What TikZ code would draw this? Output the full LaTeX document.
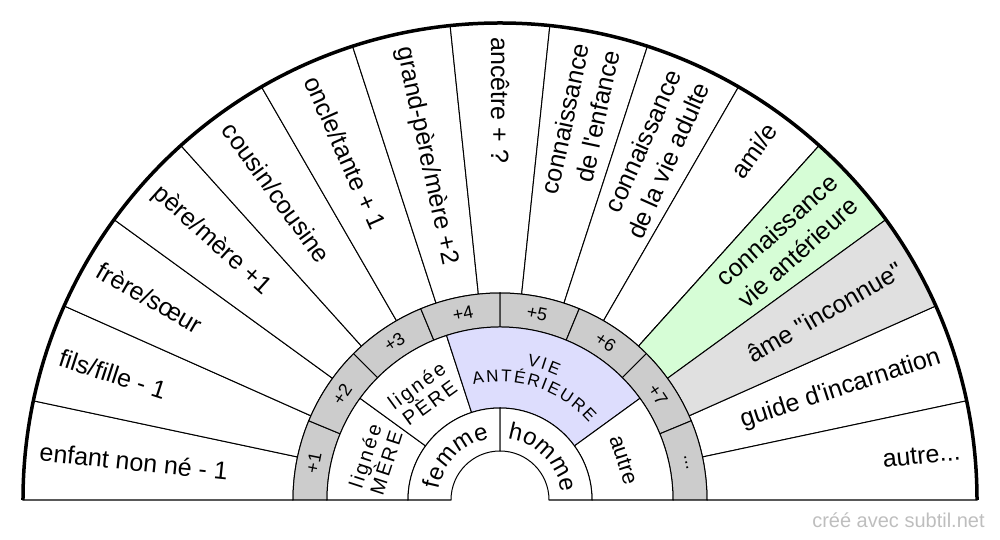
\documentclass[tikz,border=0pt]{standalone}
\usepackage{fontspec}
\setmainfont{Liberation Sans}[Ligatures=TeXOff]
\definecolor{ringgray}{RGB}{204,204,204}
\definecolor{soulgray}{RGB}{224,224,224}
\definecolor{pastgreen}{RGB}{214,253,214}
\definecolor{pastblue}{RGB}{221,221,253}
\definecolor{footgray}{RGB}{190,190,190}
% sector: [style]{outer r}{inner r}{start angle}{end angle}
\newcommand\sector[5][]{\path[#1] (#4:#2) arc[start angle=#4,end angle=#5,radius=#2] -- (#5:#3) arc[start angle=#5,end angle=#4,radius=#3] -- cycle;}
% curved word: {baseline radius px}{center angle}{size pt}{spacing pt}{letters}
\newcommand\arcword[5]{%
  \begingroup
  \fontsize{#3}{#3}\selectfont
  \gdef\arctot{0}%
  \foreach \ch in {#5}{%
    \pgfmathsetmacro\chw{width("\ch")}%
    \pgfmathsetmacro\newtot{\arctot+\chw+#4}%
    \xdef\arctot{\newtot}}%
  \pgfmathsetmacro\totang{(\arctot-#4)/(#1*0.5)*180/pi}%
  \gdef\arcacc{0}%
  \foreach \ch in {#5}{%
    \pgfmathsetmacro\chw{width("\ch")}%
    \pgfmathsetmacro\ang{#2+\totang/2-(\arcacc+\chw/2)/(#1*0.5)*180/pi}%
    \node[font=\fontsize{#3}{#3}\selectfont, inner sep=0pt, anchor=base, rotate=\ang-90] at (\ang:#1) {\ch};
    \pgfmathsetmacro\newacc{\arcacc+\chw+#4}%
    \xdef\arcacc{\newacc}}%
  \endgroup}
\begin{document}
\begin{tikzpicture}[x=0.5pt,y=0.5pt,
  thinline/.style={draw=black, line width=0.5pt},
  outerlbl/.style={font=\fontsize{12.5}{15.5}\selectfont, inner sep=0pt},
  leftlbl/.style={outerlbl, anchor=west},
  rightlbl/.style={outerlbl, anchor=east, align=right},
  ringlbl/.style={font=\fontsize{9}{10}\selectfont, inner sep=0pt},
  midlbl/.style={font=\fontsize{10}{11}\selectfont\addfontfeature{LetterSpace=12}, inner sep=0pt, align=center},
  footer/.style={font=\fontsize{10}{12}\selectfont, text=footgray, inner sep=0pt, anchor=base east}
]
\useasboundingbox (-500,-40) rectangle (500,500);
% outer ring
\foreach \i in {0,...,14}{%
  \pgfmathsetmacro\a{180-12*\i}\pgfmathsetmacro\b{168-12*\i}%
  \sector[thinline, fill=white]{477}{207}{\a}{\b}}
\sector[thinline, fill=pastgreen]{477}{207}{48}{36}
\sector[thinline, fill=soulgray]{477}{207}{36}{24}
% gray ring
\foreach \i in {0,...,7}{%
  \pgfmathsetmacro\a{180-22.5*\i}\pgfmathsetmacro\b{157.5-22.5*\i}%
  \sector[thinline, fill=ringgray]{207}{173}{\a}{\b}}
% middle ring
\sector[thinline, fill=white]{173}{92}{180}{144}
\sector[thinline, fill=white]{173}{92}{144}{108}
\sector[thinline, fill=pastblue]{173}{92}{108}{36}
\sector[thinline, fill=white]{173}{92}{36}{0}
% inner ring
\sector[thinline, fill=white]{92}{49}{180}{90}
\sector[thinline, fill=white]{92}{49}{90}{0}
% thick outer arc
\draw[line width=1.75pt] (180:477) arc[start angle=180,end angle=0,radius=477];
% outer labels
\node[leftlbl, rotate=-6]  (l0) at (174:463) {enfant non né - 1};
\node[leftlbl, rotate=-18] (l1) at (162:463) {fils/fille - 1};
\node[leftlbl, rotate=-30] (l2) at (150:463) {frère/sœur};
\node[leftlbl, rotate=-42] (l3) at (138:463) {père/mère +1};
\node[leftlbl, rotate=-54] (l4) at (126:463) {cousin/cousine};
\node[leftlbl, rotate=-66] (l5) at (114:463) {oncle/tante + 1};
\node[leftlbl, rotate=-78] (l6) at (102:463) {grand-père/mère +2};
\node[leftlbl, rotate=-90] (l7) at (90:463) {ancêtre + ?};
\node[rightlbl, rotate=78] (l8) at (78:463) {connaissance\\de l'enfance};
\node[rightlbl, rotate=66] (l9) at (66:463) {connaissance\\de la vie adulte};
\node[rightlbl, rotate=54] (l10) at (54:463) {ami/e};
\node[rightlbl, rotate=42] (l11) at (42:463) {connaissance\\vie antérieure};
\node[rightlbl, rotate=30] (l12) at (30:463) {âme "inconnue"};
\node[rightlbl, rotate=18] (l13) at (18:463) {guide d'incarnation};
\node[rightlbl, rotate=6]  (l14) at (6:463) {autre...};
% gray ring labels
\node[ringlbl, rotate=78.75]  (g1) at (168.75:190) {+1};
\node[ringlbl, rotate=56.25]  (g2) at (146.25:190) {+2};
\node[ringlbl, rotate=33.75]  (g3) at (123.75:190) {+3};
\node[ringlbl, rotate=11.25]  (g4) at (101.25:190) {+4};
\node[ringlbl, rotate=-11.25] (g5) at (78.75:190) {+5};
\node[ringlbl, rotate=-33.75] (g6) at (56.25:190) {+6};
\node[ringlbl, rotate=-56.25] (g7) at (33.75:190) {+7};
\node[ringlbl, rotate=-78.75] (g8) at (11.25:190) {...};
% middle labels
\node[midlbl, rotate=72] (m1) at (162:131) {lignée\\MÈRE};
\node[midlbl, rotate=36] (m2) at (126:131) {lignée\\PÈRE};
\node[font=\fontsize{11}{12}\selectfont, inner sep=0pt, rotate=-72] (m3) at (18:130) {autre};
\arcword{137}{72}{8.5}{1.2}{V,I,E}
\arcword{118}{72}{8.5}{1.0}{A,N,T,É,R,I,E,U,R,E}
% inner labels
\arcword{62}{135}{12}{0.3}{f,e,m,m,e}
\arcword{62}{45}{12}{0.3}{h,o,m,m,e}
% footer
\node[footer] (foot) at (485,-27) {créé avec subtil.net};
\end{tikzpicture}
\end{document}
